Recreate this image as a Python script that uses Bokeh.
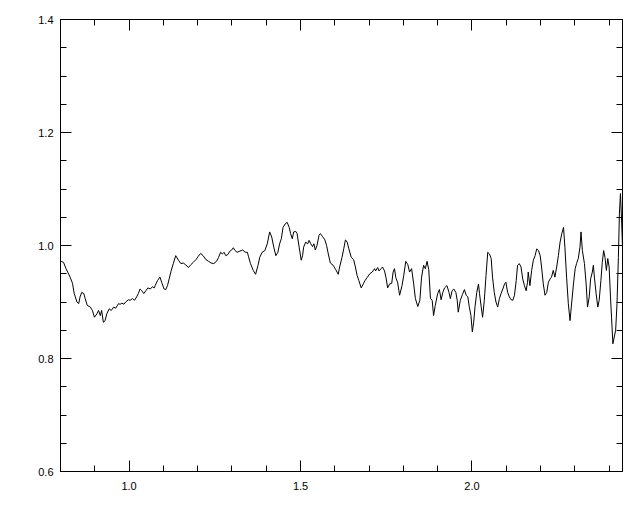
from bokeh.plotting import figure
from bokeh.models import LinearAxis, FixedTicker, Range1d, PrintfTickFormatter
from bokeh.embed import file_html
from bokeh.resources import INLINE

# Wavelength (x) and normalised flux (y)
wavelength = [
    0.802, 0.809, 0.816, 0.821, 0.828, 0.835, 0.840, 0.848, 0.853, 0.857,
    0.862, 0.868, 0.872, 0.878, 0.887, 0.893, 0.899, 0.906, 0.911, 0.916,
    0.920, 0.925, 0.930, 0.935, 0.942, 0.948, 0.955, 0.961, 0.969, 0.974,
    0.979, 0.985, 0.990, 0.998, 1.003, 1.010, 1.016, 1.022, 1.027, 1.032,
    1.037, 1.043, 1.049, 1.055, 1.062, 1.068, 1.074, 1.076, 1.083, 1.090,
    1.095, 1.102, 1.107, 1.112, 1.117, 1.123, 1.129, 1.136, 1.144, 1.151,
    1.158, 1.165, 1.173, 1.180, 1.187, 1.195, 1.202, 1.209, 1.216, 1.224,
    1.232, 1.239, 1.247, 1.255, 1.261, 1.267, 1.272, 1.277, 1.282, 1.288,
    1.294, 1.299, 1.304, 1.309, 1.315, 1.323, 1.331, 1.339, 1.345, 1.348,
    1.354, 1.362, 1.369, 1.376, 1.381, 1.388, 1.396, 1.403, 1.410, 1.416,
    1.422, 1.428, 1.434, 1.439, 1.444, 1.449, 1.455, 1.461, 1.467, 1.471,
    1.476, 1.480, 1.486, 1.490, 1.496, 1.502, 1.506, 1.509, 1.515, 1.521,
    1.525, 1.530, 1.535, 1.539, 1.543, 1.548, 1.554, 1.558, 1.564, 1.571,
    1.576, 1.581, 1.587, 1.595, 1.603, 1.610, 1.614, 1.621, 1.626, 1.631,
    1.636, 1.641, 1.648, 1.655, 1.660, 1.665, 1.670, 1.677, 1.683, 1.688,
    1.694, 1.702, 1.709, 1.716, 1.719, 1.725, 1.729, 1.735, 1.739, 1.745,
    1.750, 1.754, 1.760, 1.766, 1.770, 1.774, 1.778, 1.783, 1.789, 1.796,
    1.801, 1.807, 1.813, 1.818, 1.824, 1.830, 1.835, 1.842, 1.848, 1.853,
    1.859, 1.864, 1.869, 1.874, 1.879, 1.884, 1.888, 1.893, 1.900, 1.905,
    1.910, 1.915, 1.920, 1.927, 1.933, 1.937, 1.942, 1.947, 1.953, 1.957,
    1.960, 1.966, 1.972, 1.978, 1.983, 1.988, 1.992, 1.997, 2.001, 2.005,
    2.009, 2.014, 2.019, 2.022, 2.027, 2.031, 2.036, 2.041, 2.046, 2.051,
    2.056, 2.060, 2.065, 2.070, 2.075, 2.080, 2.085, 2.090, 2.095, 2.099,
    2.104, 2.109, 2.114, 2.119, 2.124, 2.129, 2.133, 2.138, 2.143, 2.148,
    2.153, 2.158, 2.162, 2.164, 2.169, 2.174, 2.179, 2.184, 2.189, 2.194,
    2.199, 2.203, 2.208, 2.213, 2.218, 2.223, 2.228, 2.232, 2.237, 2.242,
    2.247, 2.252, 2.257, 2.262, 2.267, 2.271, 2.276, 2.281, 2.286, 2.291,
    2.296, 2.301, 2.305, 2.310, 2.315, 2.318, 2.322, 2.328, 2.333, 2.337,
    2.342, 2.346, 2.351, 2.354, 2.357, 2.362, 2.367, 2.371, 2.376, 2.380,
    2.384, 2.388, 2.392, 2.396, 2.400, 2.404, 2.407, 2.411, 2.415, 2.419,
    2.423, 2.427, 2.430, 2.433, 2.436, 2.439,
]
flux = [
    0.972, 0.970, 0.959, 0.953, 0.944, 0.933, 0.915, 0.900, 0.897, 0.909,
    0.917, 0.915, 0.906, 0.894, 0.891, 0.885, 0.873, 0.879, 0.885, 0.876,
    0.885, 0.864, 0.867, 0.879, 0.888, 0.885, 0.891, 0.889, 0.897, 0.896,
    0.898, 0.896, 0.900, 0.904, 0.903, 0.906, 0.903, 0.909, 0.915, 0.923,
    0.920, 0.915, 0.920, 0.925, 0.923, 0.927, 0.925, 0.929, 0.938, 0.944,
    0.935, 0.923, 0.922, 0.929, 0.941, 0.956, 0.968, 0.982, 0.974, 0.968,
    0.969, 0.966, 0.961, 0.966, 0.970, 0.975, 0.981, 0.986, 0.982, 0.975,
    0.972, 0.969, 0.968, 0.972, 0.979, 0.988, 0.985, 0.988, 0.982, 0.984,
    0.990, 0.992, 0.996, 0.991, 0.988, 0.990, 0.992, 0.988, 0.988, 0.981,
    0.968, 0.956, 0.949, 0.965, 0.979, 0.988, 0.991, 1.003, 1.024, 1.015,
    0.997, 0.982, 0.988, 1.003, 1.012, 1.032, 1.038, 1.041, 1.032, 1.021,
    1.012, 1.024, 1.025, 1.021, 0.997, 0.974, 0.982, 0.997, 1.006, 1.003,
    1.009, 1.003, 0.998, 1.003, 0.992, 1.000, 1.018, 1.021, 1.016, 1.010,
    1.000, 0.985, 0.969, 0.965, 0.957, 0.949, 0.962, 0.979, 0.994, 1.010,
    1.006, 0.994, 0.979, 0.975, 0.962, 0.947, 0.938, 0.925, 0.932, 0.938,
    0.943, 0.950, 0.953, 0.959, 0.955, 0.961, 0.955, 0.959, 0.962, 0.955,
    0.941, 0.925, 0.932, 0.933, 0.953, 0.959, 0.943, 0.935, 0.912, 0.929,
    0.947, 0.972, 0.966, 0.953, 0.959, 0.932, 0.906, 0.892, 0.903, 0.944,
    0.965, 0.959, 0.972, 0.957, 0.906, 0.903, 0.876, 0.894, 0.915, 0.922,
    0.904, 0.917, 0.925, 0.929, 0.917, 0.906, 0.920, 0.923, 0.917, 0.903,
    0.882, 0.903, 0.913, 0.922, 0.912, 0.909, 0.892, 0.876, 0.847, 0.864,
    0.892, 0.917, 0.932, 0.915, 0.891, 0.873, 0.903, 0.947, 0.988, 0.985,
    0.977, 0.944, 0.917, 0.900, 0.891, 0.906, 0.915, 0.923, 0.932, 0.935,
    0.917, 0.909, 0.904, 0.903, 0.912, 0.938, 0.965, 0.968, 0.962, 0.941,
    0.929, 0.920, 0.935, 0.953, 0.929, 0.956, 0.974, 0.982, 0.994, 0.991,
    0.982, 0.962, 0.932, 0.912, 0.917, 0.935, 0.941, 0.944, 0.956, 0.944,
    0.962, 0.982, 1.006, 1.021, 1.032, 0.997, 0.944, 0.897, 0.867, 0.900,
    0.932, 0.959, 0.968, 0.977, 0.997, 1.024, 0.991, 0.968, 0.932, 0.891,
    0.909, 0.941, 0.953, 0.965, 0.944, 0.915, 0.891, 0.903, 0.938, 0.970,
    0.991, 0.979, 0.956, 0.977, 0.962, 0.909, 0.873, 0.826, 0.838, 0.850,
    0.897, 0.979, 1.056, 1.092, 1.050, 0.997,
]

x_major_ticks = [1.0, 1.5, 2.0]
x_minor_ticks = [0.9, 1.1, 1.2, 1.3, 1.4, 1.6, 1.7, 1.8, 1.9, 2.1, 2.2, 2.3, 2.4]
y_major_ticks = [0.6, 0.8, 1.0, 1.2, 1.4]
y_minor_ticks = [0.65, 0.7, 0.75, 0.85, 0.9, 0.95, 1.05, 1.1, 1.15, 1.25, 1.3, 1.35]

x_start, x_end = 0.8, 2.439
y_start, y_end = 0.6, 1.4

p = figure(width=632, height=504, output_backend="svg", toolbar_location=None,
           x_range=Range1d(x_start, x_end), y_range=Range1d(y_start, y_end),
           x_axis_location=None, y_axis_location=None,
           min_border_left=60, min_border_right=10, min_border_top=19,
           min_border_bottom=33)
p.grid.visible = False
p.outline_line_color = "black"
p.outline_line_width = 1
p.background_fill_color = "white"
p.border_fill_color = "white"

font = "Liberation Sans"


def style(ax, labels, standoff):
    ax.axis_line_color = "black"
    ax.major_tick_in = 11
    ax.major_tick_out = 0
    ax.minor_tick_in = 6
    ax.minor_tick_out = 0
    ax.major_tick_line_color = "black"
    ax.minor_tick_line_color = "black"
    ax.major_label_text_font = font
    ax.major_label_text_font_size = "11px" if labels else "0px"
    ax.major_label_text_color = "black" if labels else None
    ax.major_label_standoff = standoff if labels else 0
    ax.formatter = PrintfTickFormatter(format="%.1f")


for loc, labels in (("below", True), ("above", False)):
    ax = LinearAxis(ticker=FixedTicker(ticks=x_major_ticks, minor_ticks=x_minor_ticks))
    style(ax, labels, 10)
    p.add_layout(ax, loc)

for loc, labels in (("left", True), ("right", False)):
    ax = LinearAxis(ticker=FixedTicker(ticks=y_major_ticks, minor_ticks=y_minor_ticks))
    style(ax, labels, 7)
    p.add_layout(ax, loc)

p.line(wavelength, flux, line_color="black", line_width=1)

open("out.html", "w").write(file_html(p, INLINE))
